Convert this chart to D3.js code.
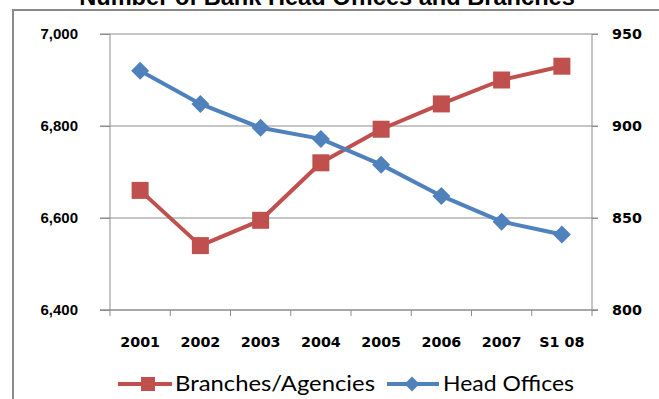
<!DOCTYPE html>
<html>
<head>
<meta charset="utf-8">
<script src="https://cdn.jsdelivr.net/npm/d3@7"></script>
<style>
  html, body { margin: 0; padding: 0; background: #fff; }
  svg { display: block; }
</style>
</head>
<body>
<svg id="chart" width="659" height="399"></svg>
<script>
// Bank network statistics
const categories = ["2001", "2002", "2003", "2004", "2005", "2006", "2007", "S1 08"];
const branchesAgencies = [6660, 6540, 6595, 6720, 6793, 6848, 6900, 6930];
const headOffices = [930, 912, 899, 893, 879, 862, 848, 841];
const leftTicks = [6400, 6600, 6800, 7000];
const rightTicks = [800, 850, 900, 950];
const titleText = "Number of Bank Head Offices and Branches";
const seriesNames = ["Branches/Agencies", "Head Offices"];

const RED = "#C0504D", BLUE = "#4F81BD", GRID = "#8c8c8c";
const svg = d3.select("#chart");

const plot = { left: 110, right: 592, top: 34, bottom: 310 };

const x = d3.scaleBand().domain(categories).range([plot.left, plot.right]).padding(0);
const yL = d3.scaleLinear().domain([6400, 7000]).range([plot.bottom, plot.top]);
const yR = d3.scaleLinear().domain([800, 950]).range([plot.bottom, plot.top]);
const cx = c => x(c) + x.bandwidth() / 2;

// outer frame
svg.append("rect")
  .attr("x", 13).attr("y", 10).attr("width", 700).attr("height", 420)
  .attr("fill", "none").attr("stroke", "#8a8a8a").attr("stroke-width", 2);

// title
svg.append("text")
  .attr("x", 327).attr("y", 5)
  .attr("text-anchor", "middle")
  .attr("font-family", "Liberation Sans, Arial, sans-serif")
  .attr("font-weight", "bold").attr("font-size", 23.6)
  .attr("fill", "#000")
  .text(titleText);

// horizontal gridlines (extend across tick marks on both sides)
svg.append("g").selectAll("line").data(leftTicks).join("line")
  .attr("x1", plot.left - 10).attr("x2", plot.right + 6)
  .attr("y1", d => yL(d)).attr("y2", d => yL(d))
  .attr("stroke", GRID).attr("stroke-width", 1);

// left axis
const axL = svg.append("g").attr("transform", `translate(${plot.left},0)`)
  .call(d3.axisLeft(yL).tickValues(leftTicks).tickSize(10).tickPadding(22)
    .tickFormat(d3.format(",")));
axL.selectAll("text")
  .attr("font-family", "Liberation Sans, Arial, sans-serif")
  .attr("font-weight", "bold").attr("font-size", 15).attr("fill", "#000");

// right axis
const axR = svg.append("g").attr("transform", `translate(${plot.right},0)`)
  .call(d3.axisRight(yR).tickValues(rightTicks).tickSize(6).tickPadding(14));
axR.selectAll("text")
  .attr("font-family", "DejaVu Sans, Verdana, sans-serif")
  .attr("font-weight", "bold").attr("font-size", 14.3).attr("fill", "#000");

// bottom axis with ticks at category boundaries
const axB = svg.append("g").attr("transform", `translate(0,${plot.bottom})`)
  .call(d3.axisBottom(x).tickSize(0).tickPadding(27));
axB.selectAll("text")
  .attr("font-family", "DejaVu Sans, Verdana, sans-serif")
  .attr("font-weight", "bold").attr("font-size", 14.3).attr("fill", "#000");
axB.select(".domain").remove();
const bounds = categories.map(c => x(c)).concat([plot.right]);
svg.append("g").selectAll("line").data(bounds).join("line")
  .attr("x1", d => d).attr("x2", d => d)
  .attr("y1", plot.bottom).attr("y2", plot.bottom + 6)
  .attr("stroke", GRID);
svg.append("line")
  .attr("x1", plot.left - 10).attr("x2", plot.right + 6)
  .attr("y1", plot.bottom).attr("y2", plot.bottom)
  .attr("stroke", GRID);

[axL, axR].forEach(a => {
  a.select(".domain").attr("stroke", GRID).attr("d",
    `M0,${plot.top}V${plot.bottom}`);
  a.selectAll(".tick line").attr("stroke", GRID);
});

// series
const diamond = s => `M0,${-s}L${s},0L0,${s}L${-s},0Z`;

const lineL = d3.line().x((d, i) => cx(categories[i])).y(d => yL(d));
const lineR = d3.line().x((d, i) => cx(categories[i])).y(d => yR(d));

svg.append("path").datum(branchesAgencies)
  .attr("d", lineL).attr("fill", "none")
  .attr("stroke", RED).attr("stroke-width", 4).attr("stroke-linejoin", "round");
svg.append("g").selectAll("rect").data(branchesAgencies).join("rect")
  .attr("x", (d, i) => cx(categories[i]) - 8.5)
  .attr("y", d => yL(d) - 8.5)
  .attr("width", 17).attr("height", 17)
  .attr("fill", RED);

svg.append("path").datum(headOffices)
  .attr("d", lineR).attr("fill", "none")
  .attr("stroke", BLUE).attr("stroke-width", 4).attr("stroke-linejoin", "round");
svg.append("g").selectAll("path").data(headOffices).join("path")
  .attr("transform", (d, i) => `translate(${cx(categories[i])},${yR(d)})`)
  .attr("d", diamond(9))
  .attr("fill", BLUE);

// legend
const leg = svg.append("g");
const legY = 384;
leg.append("line").attr("x1", 118).attr("x2", 172).attr("y1", legY).attr("y2", legY)
  .attr("stroke", RED).attr("stroke-width", 4);
leg.append("rect").attr("x", 141).attr("y", legY - 7).attr("width", 14).attr("height", 14)
  .attr("fill", RED);
leg.append("text").attr("x", 175).attr("y", legY + 7)
  .attr("font-family", "Lato, sans-serif").attr("font-size", 21).attr("fill", "#000")
  .attr("textLength", 200).attr("lengthAdjust", "spacingAndGlyphs")
  .text(seriesNames[0]);

leg.append("line").attr("x1", 387).attr("x2", 439).attr("y1", legY).attr("y2", legY)
  .attr("stroke", BLUE).attr("stroke-width", 4);
leg.append("path").attr("transform", `translate(412,${legY})`).attr("d", diamond(7.5))
  .attr("fill", BLUE);
leg.append("text").attr("x", 443).attr("y", legY + 7)
  .attr("font-family", "Lato, sans-serif").attr("font-size", 21).attr("fill", "#000")
  .attr("textLength", 131).attr("lengthAdjust", "spacingAndGlyphs")
  .text(seriesNames[1]);
</script>
</body>
</html>
